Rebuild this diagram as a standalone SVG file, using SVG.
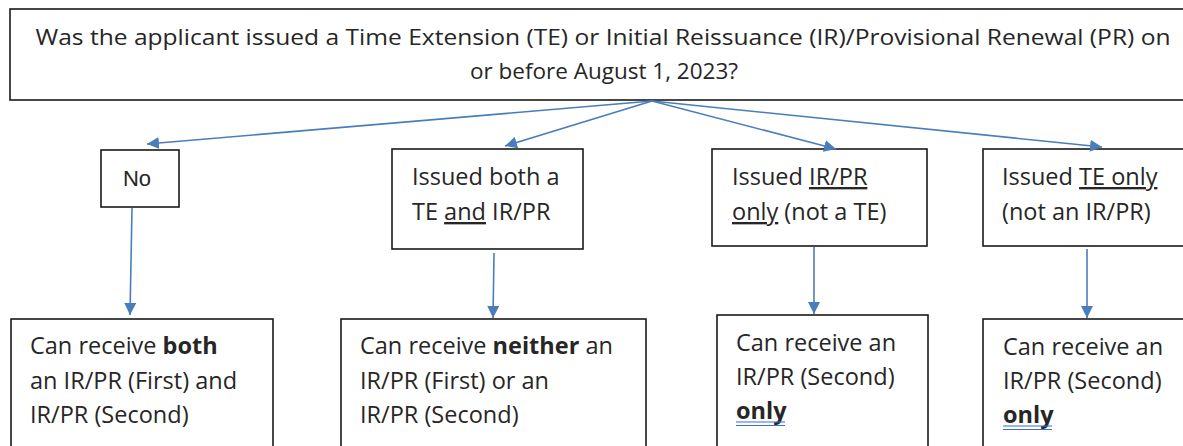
<svg xmlns="http://www.w3.org/2000/svg" width="1183" height="446" viewBox="0 0 1183 446">
<style>
.box{fill:#fff;stroke:#1a1a1a;stroke-width:1.6}
.t{font-family:"Open Sans","Liberation Sans",sans-serif;font-size:23.5px;fill:#262626}
.tt{font-family:"Open Sans","Liberation Sans",sans-serif;font-size:22.5px;fill:#262626}
.no{font-family:"Liberation Sans",Arial,sans-serif;font-size:22px;fill:#262626}
.b{font-weight:bold}
.u{text-decoration:underline}
.conn{stroke:#4a7ebb;stroke-width:1.6;fill:none;marker-end:url(#ah)}
.blue{stroke:#3a6fd8;stroke-width:1.2}
</style>
<defs>
<marker id="ah" markerUnits="userSpaceOnUse" markerWidth="12" markerHeight="12" viewBox="0 0 12 12" refX="12" refY="6" orient="auto">
<path d="M0,0 L12,6 L0,12 z" fill="#4a7ebb"/>
</marker>
</defs>
<rect width="1183" height="446" fill="#fff"/>
<g id="question">
<rect class="box" x="10" y="9" width="1190" height="91"/>
<text class="tt" x="603" y="45" text-anchor="middle" textLength="1135" lengthAdjust="spacingAndGlyphs">Was the applicant issued a Time Extension (TE) or Initial Reissuance (IR)/Provisional Renewal (PR) on</text>
<text class="tt" x="604" y="79" text-anchor="middle">or before August 1, 2023?</text>
</g>
<g id="no">
<rect class="box" x="101" y="150" width="78" height="57"/>
<text class="no" x="137" y="186" text-anchor="middle">No</text>
</g>
<g id="both">
<rect class="box" x="392" y="149" width="191" height="100"/>
<text class="t" x="412" y="185">Issued both a</text>
<text class="t" x="412" y="220">TE <tspan class="u">and</tspan> IR/PR</text>
</g>
<g id="irpr-only">
<rect class="box" x="712" y="149" width="215" height="97"/>
<text class="t" x="732" y="185">Issued <tspan class="u">IR/PR</tspan></text>
<text class="t" x="732" y="220"><tspan class="u">only</tspan> (not a TE)</text>
</g>
<g id="te-only">
<rect class="box" x="983" y="149" width="220" height="97"/>
<text class="t" x="1002" y="185">Issued <tspan class="u">TE only</tspan></text>
<text class="t" x="1002" y="220">(not an IR/PR)</text>
</g>
<g id="result-both">
<rect class="box" x="11" y="319" width="262" height="140"/>
<text class="t" x="30" y="354">Can receive <tspan class="b">both</tspan></text>
<text class="t" x="30" y="389">an IR/PR (First) and</text>
<text class="t" x="30" y="423">IR/PR (Second)</text>
</g>
<g id="result-neither">
<rect class="box" x="341" y="319" width="305" height="140"/>
<text class="t" x="360" y="354">Can receive <tspan class="b">neither</tspan> an</text>
<text class="t" x="360" y="389">IR/PR (First) or an</text>
<text class="t" x="360" y="423">IR/PR (Second)</text>
</g>
<g id="result-second-c">
<rect class="box" x="717" y="315" width="211" height="140"/>
<text class="t" x="736" y="351">Can receive an</text>
<text class="t" x="736" y="385">IR/PR (Second)</text>
<text class="t b" x="736" y="419">only</text>
<line class="blue" x1="736" y1="422" x2="785" y2="422"/>
<line class="blue" x1="736" y1="425.5" x2="785" y2="425.5"/>
</g>
<g id="result-second-d">
<rect class="box" x="983" y="319" width="220" height="140"/>
<text class="t" x="1003" y="355">Can receive an</text>
<text class="t" x="1003" y="389">IR/PR (Second)</text>
<text class="t b" x="1003" y="423">only</text>
<line class="blue" x1="1003" y1="426" x2="1052" y2="426"/>
<line class="blue" x1="1003" y1="429.5" x2="1052" y2="429.5"/>
</g>
<g id="connectors">
<line class="conn" x1="652" y1="101" x2="147" y2="144"/>
<line class="conn" x1="652" y1="101" x2="505" y2="146"/>
<line class="conn" x1="652" y1="101" x2="836" y2="149"/>
<line class="conn" x1="652" y1="101" x2="1102" y2="147"/>
<line class="conn" x1="132" y1="208" x2="130" y2="315"/>
<line class="conn" x1="494" y1="253" x2="493" y2="318"/>
<line class="conn" x1="814" y1="247" x2="814" y2="314"/>
<line class="conn" x1="1087" y1="249" x2="1087" y2="318"/>
</g>
</svg>
